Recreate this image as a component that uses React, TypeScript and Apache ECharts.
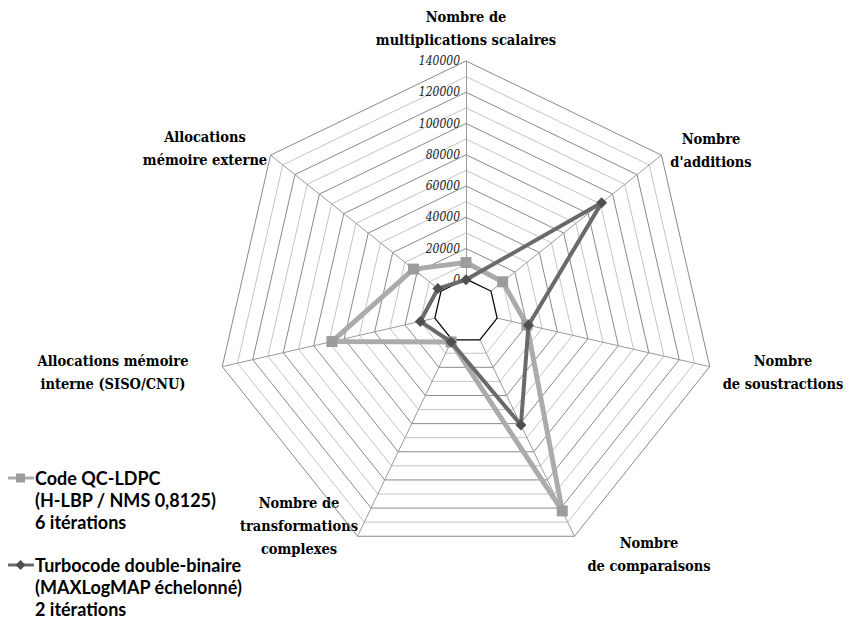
import React, { useEffect, useRef } from "react";
import * as echarts from "echarts";

// ---------- data (clockwise from top) ----------
const indicatorNames = [
  "Nombre de\nmultiplications scalaires",
  "Nombre\nd'additions",
  "Nombre\nde soustractions",
  "Nombre\nde comparaisons",
  "Nombre de\ntransformations\ncomplexes",
  "Allocations mémoire\ninterne (SISO/CNU)",
  "Allocations\nmémoire externe",
];
const axisMin = -20000;
const axisMax = 140000;
const tickLabels = ["0", "20000", "40000", "60000", "80000", "100000", "120000", "140000"];
const seriesNames = [
  "Code QC-LDPC\n(H-LBP / NMS 0,8125)\n6 itérations",
  "Turbocode double-binaire\n(MAXLogMAP échelonné)\n2 itérations",
];
const qcLdpcValues = [11000, 10000, 20000, 122000, 2000, 68000, 23000];
const turboValues = [0, 91000, 21000, 61000, 2000, 10000, 3000];
const zeroValues = [0, 0, 0, 0, 0, 0, 0];

// ECharts radar runs counter-clockwise; this order makes it clockwise
const order = [0, 6, 5, 4, 3, 2, 1];

// ---------- layout ----------
const CX = 466;
const CY = 311;
const R = 250;
const SPLIT = 16;

const namePos: [number, number][] = [
  [466, 28],
  [711, 150],
  [783, 372],
  [649, 554],
  [299, 525],
  [113, 372],
  [205, 148],
];

const SERIF = "DejaVu Serif Condensed, DejaVu Serif";
const LIGHT_LINE = "#ababab";
const LIGHT_MARK = "#9c9c9c";
const DARK_LINE = "#6a6a6a";
const DARK_MARK = "#505050";

export default function App() {
  const ref = useRef<HTMLDivElement>(null);
  useEffect(() => {
    document.body.style.margin = "0";
    if (!ref.current) return;
    const chart = echarts.init(ref.current, null, { renderer: "svg" });

    const step = (axisMax - axisMin) / SPLIT;
    const ringColors: string[] = [];
    for (let i = 0; i <= SPLIT; i++) {
      const v = axisMin + i * step;
      if (v <= 0) ringColors.push("rgba(0,0,0,0)");
      else if (v % 20000 === 0) ringColors.push("#8a8a8a");
      else ringColors.push("#c4c4c4");
    }

    const graphics: any[] = [];
    indicatorNames.forEach((n, i) => {
      graphics.push({
        type: "text",
        x: namePos[i][0],
        y: namePos[i][1],
        style: {
          text: n,
          textAlign: "center",
          textVerticalAlign: "middle",
          fontFamily: SERIF,
          fontWeight: "bold",
          fontSize: 14.5,
          lineHeight: 23,
          fill: "#000",
        },
      });
    });
    // legend
    const legendY = [478, 565];
    graphics.push(
      { type: "line", shape: { x1: 8, y1: legendY[0], x2: 34, y2: legendY[0] }, style: { stroke: LIGHT_LINE, lineWidth: 3 } },
      { type: "rect", shape: { x: 16, y: legendY[0] - 4.5, width: 9, height: 9 }, style: { fill: LIGHT_MARK } },
      { type: "line", shape: { x1: 8, y1: legendY[1], x2: 34, y2: legendY[1] }, style: { stroke: DARK_LINE, lineWidth: 3 } },
      {
        type: "polygon",
        shape: { points: [[20.5, legendY[1] - 5], [25.5, legendY[1]], [20.5, legendY[1] + 5], [15.5, legendY[1]]] },
        style: { fill: DARK_MARK },
      }
    );
    seriesNames.forEach((s, i) => {
      graphics.push({
        type: "text",
        x: 35,
        y: legendY[i] - 11,
        style: {
          text: s,
          textAlign: "left",
          textVerticalAlign: "top",
          fontFamily: "Lato",
          fontWeight: "bold",
          fontSize: 18,
          lineHeight: 22,
          fill: "#000",
        },
      });
    });

    chart.setOption({
      animation: false,
      backgroundColor: "#fff",
      radar: {
        center: [CX, CY],
        radius: R,
        shape: "polygon",
        splitNumber: SPLIT,
        startAngle: 90,
        indicator: order.map((k, j) => ({
          name: indicatorNames[k].replace(/\n/g, " "),
          min: axisMin,
          max: axisMax,
          axisLabel:
            j === 0
              ? {
                  show: true,
                  formatter: (v: number) => (tickLabels.includes(String(v)) ? String(v) : ""),
                  fontFamily: SERIF,
                  fontStyle: "italic",
                  fontSize: 12,
                  color: "#222",
                  margin: 6,
                }
              : { show: false },
        })),
        axisName: { show: false },
        axisLabel: { show: false },
        axisTick: { show: false },
        axisLine: { show: true, lineStyle: { color: "#9a9a9a", width: 1 } },
        splitLine: { show: true, lineStyle: { color: ringColors, width: 1 } },
        splitArea: { show: false },
      },
      graphic: graphics,
      series: [
        {
          type: "radar",
          name: "zero",
          z: 2,
          silent: true,
          symbol: "none",
          data: [
            {
              value: order.map((k) => zeroValues[k]),
              lineStyle: { color: "#000", width: 2.5 },
              areaStyle: { color: "#fff", opacity: 1 },
            },
          ],
        },
        {
          type: "radar",
          name: seriesNames[0],
          z: 3,
          symbol: "rect",
          symbolSize: 11,
          data: [
            {
              value: order.map((k) => qcLdpcValues[k]),
              lineStyle: { color: LIGHT_LINE, width: 5 },
              itemStyle: { color: LIGHT_MARK },
            },
          ],
        },
        {
          type: "radar",
          name: seriesNames[1],
          z: 4,
          symbol: "diamond",
          symbolSize: 11,
          data: [
            {
              value: order.map((k) => turboValues[k]),
              lineStyle: { color: DARK_LINE, width: 4 },
              itemStyle: { color: DARK_MARK },
            },
          ],
        },
      ],
    });
    return () => chart.dispose();
  }, []);
  return <div ref={ref} style={{ width: 852, height: 631 }} />;
}
